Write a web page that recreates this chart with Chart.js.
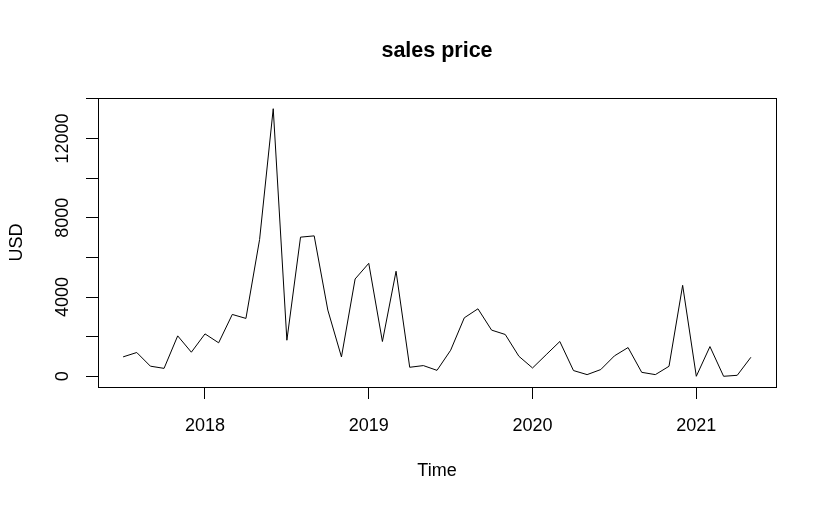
<!DOCTYPE html>
<html>
<head>
<meta charset="utf-8">
<script src="https://cdn.jsdelivr.net/npm/chart.js@4.4.0/dist/chart.umd.min.js"></script>
<style>
  html, body { margin: 0; padding: 0; background: #fff; }
  #wrap { width: 826px; height: 510px; }
</style>
</head>
<body>
<div id="wrap"><canvas id="grafico" width="826" height="510"></canvas></div>
<script>
// serie mensual, empieza en julio 2017
const inicioAnio = 2017;
const inicioMes = 7;
const ventas = [
  980, 1200, 510, 400, 2040, 1215, 2140, 1690, 3120, 2920, 6900, 13500,
  1820, 7020, 7085, 3340, 977, 4910, 5700, 1755, 5300, 455, 540, 300,
  1315, 2950, 3405, 2330, 2110, 1010, 420, 1090, 1755, 290, 85, 340,
  1030, 1450, 200, 85, 505, 4590, 0, 1500, 0, 50, 960
];
const xTicks = [2018, 2019, 2020, 2021];
const yTicks = [0, 2000, 4000, 6000, 8000, 10000, 12000, 14000];
const yEtiquetas = [0, 4000, 8000, 12000];

const titulo = "sales price";
const tituloX = "Time";
const tituloY = "USD";

const puntos = ventas.map((v, i) => ({ x: inicioAnio + (inicioMes - 1) / 12 + i / 12, y: v }));

// rango como en R: 4% extra a cada lado
const xs = puntos.map((p) => p.x);
const ys = puntos.map((p) => p.y);
const xMin = Math.min(...xs), xMax = Math.max(...xs);
const yMin = Math.min(...ys), yMax = Math.max(...ys);
const dx = (xMax - xMin) * 0.04;
const dy = (yMax - yMin) * 0.04;

const fuente = "'Liberation Sans', Arial, sans-serif";

const textosR = {
  id: "textosR",
  afterDraw(chart) {
    const { ctx, chartArea: a, scales } = chart;
    ctx.save();
    // caja
    ctx.strokeStyle = "#000";
    ctx.lineWidth = 1;
    ctx.strokeRect(Math.round(a.left) + 0.5, Math.round(a.top) + 0.5,
      Math.round(a.right - a.left), Math.round(a.bottom - a.top));

    ctx.fillStyle = "#000";
    ctx.textAlign = "center";
    ctx.textBaseline = "middle";

    ctx.font = "bold 21.5px " + fuente;
    ctx.fillText(titulo, (a.left + a.right) / 2, 51);

    ctx.font = "18px " + fuente;
    ctx.fillText(tituloX, (a.left + a.right) / 2, 471);

    // etiquetas del eje y giradas
    yEtiquetas.forEach((v) => {
      const py = scales.y.getPixelForValue(v);
      ctx.save();
      ctx.translate(63, py);
      ctx.rotate(-Math.PI / 2);
      ctx.fillText(String(v), 0, 0);
      ctx.restore();
    });

    ctx.save();
    ctx.translate(17, (a.top + a.bottom) / 2);
    ctx.rotate(-Math.PI / 2);
    ctx.fillText(tituloY, 0, 0);
    ctx.restore();

    ctx.restore();
  },
};

new Chart(document.getElementById("grafico"), {
  type: "line",
  data: {
    datasets: [
      {
        label: titulo,
        data: puntos,
        borderColor: "#000",
        borderWidth: 1,
        pointRadius: 0,
        tension: 0,
        fill: false,
      },
    ],
  },
  options: {
    responsive: false,
    animation: false,
    layout: { padding: { top: 98, right: 50, left: 0, bottom: 0 } },
    plugins: {
      legend: { display: false },
      tooltip: { enabled: false },
    },
    scales: {
      x: {
        type: "linear",
        min: xMin - dx,
        max: xMax + dx,
        afterBuildTicks: (scale) => { scale.ticks = xTicks.map((v) => ({ value: v })); },
        afterFit: (scale) => { scale.height = 510 - 387; },
        grid: { drawOnChartArea: false, drawTicks: true, tickLength: 12, color: "#000" },
        border: { display: false },
        ticks: {
          color: "#000",
          font: { size: 18, family: fuente },
          padding: 16,
          maxRotation: 0,
          callback: (v) => String(v),
        },
      },
      y: {
        type: "linear",
        min: yMin - dy,
        max: yMax + dy,
        afterBuildTicks: (scale) => { scale.ticks = yTicks.map((v) => ({ value: v })); },
        afterFit: (scale) => { scale.width = 98; },
        grid: { drawOnChartArea: false, drawTicks: true, tickLength: 12, color: "#000" },
        border: { display: false },
        ticks: { display: false },
      },
    },
  },
  plugins: [textosR],
});
</script>
</body>
</html>
